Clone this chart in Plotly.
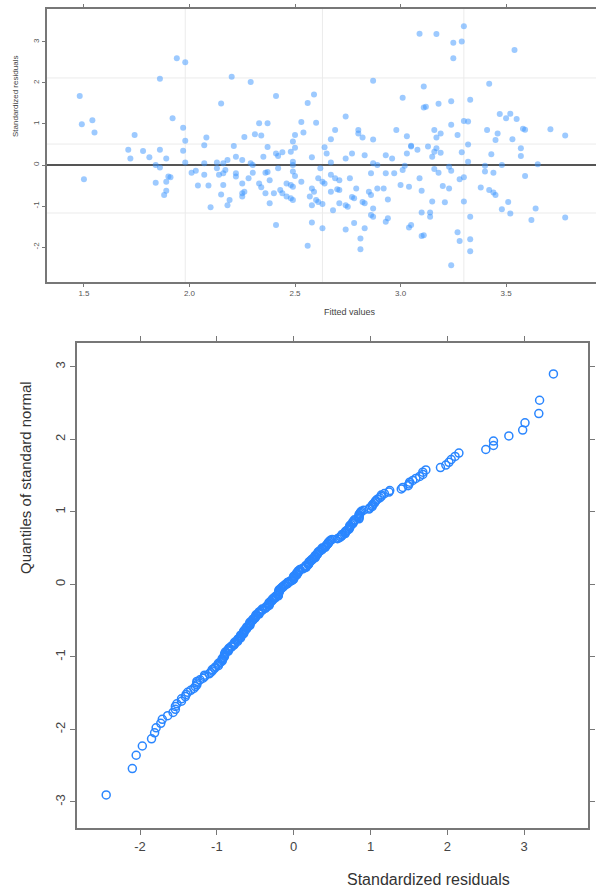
import plotly.graph_objects as go
from statistics import NormalDist

# ---- data (fitted values, standardized residuals) ----
fitted = [
    1.94, 1.98, 1.86, 2.20, 1.48, 2.15, 1.49, 1.54, 1.55, 1.92, 1.97, 1.74, 1.98, 2.08, 2.07, 2.21, 2.26, 1.71, 1.78, 1.86, 1.97,
    2.29, 2.87, 2.41, 2.59, 2.56, 3.01, 2.74, 2.33, 2.37, 2.53, 2.60, 2.31, 2.34, 2.37, 2.50, 2.54, 2.49, 2.50, 2.69, 2.67, 2.64,
    2.80, 2.80, 2.82, 2.87, 2.98, 3.03, 3.05, 2.44, 2.48, 2.41, 2.65, 2.77, 2.83, 2.93, 3.03,
    3.09, 3.17, 3.30, 3.25, 3.29, 3.25, 3.54, 3.11, 3.42, 3.11, 3.12, 3.18, 3.24, 3.33, 3.47, 3.52, 3.50, 3.55, 3.30, 3.32, 3.24,
    3.16, 3.19, 3.27, 3.41, 3.46, 3.58, 3.59, 3.71, 3.78, 3.45, 3.53, 3.17, 3.05, 3.08, 3.13, 3.17, 3.16, 3.19, 3.32, 3.29, 3.57, 3.43,
    1.50, 1.72, 1.81, 1.89, 1.84, 1.86, 1.98, 1.84, 1.90, 1.91, 1.89, 1.89, 1.88, 2.01, 2.03, 2.07, 2.07, 2.04, 2.09, 2.13, 2.13,
    2.14, 2.16, 2.18, 2.22, 2.25, 2.17, 2.16, 2.22, 2.22, 2.16, 2.15, 2.19, 2.18, 2.10, 2.25,
    2.35, 2.42, 2.58, 2.74, 2.96, 2.30, 2.29, 2.49, 2.49, 2.62, 2.67, 2.87, 2.89, 3.02, 2.36, 2.37, 2.30, 2.28, 2.42, 2.49, 2.50,
    2.38, 2.33, 2.34, 2.25, 2.26, 2.25, 2.36, 2.40, 2.38, 2.43, 2.44, 2.46, 2.48, 2.49, 2.46, 2.48, 2.49, 2.53, 2.58, 2.59, 2.61,
    2.63, 2.64, 2.67, 2.69, 2.71, 2.60, 2.61, 2.57, 2.58, 2.63, 2.67, 2.70, 2.71, 2.71, 2.68, 2.74, 2.75, 2.78, 2.77, 2.79, 2.76,
    2.82, 2.83, 2.86, 2.85, 2.87, 2.86, 2.93, 2.97, 2.89, 2.92, 2.94, 3.00, 3.04, 3.01, 2.87, 2.86, 2.93, 2.94, 2.78, 2.83, 2.74,
    2.63, 2.58, 2.41, 2.81, 2.81, 2.56, 3.04, 3.05,
    3.15, 3.57, 3.32, 3.23, 3.24, 3.16, 3.18, 3.40, 3.40, 3.48, 3.44, 3.65, 3.59, 3.09, 3.28, 3.30, 3.10, 3.20, 3.23, 3.38, 3.42,
    3.44, 3.45, 3.15, 3.21, 3.30, 3.51, 3.48, 3.52, 3.64, 3.10, 3.14, 3.14, 3.33, 3.62, 3.78, 3.10, 3.11, 3.27, 3.28, 3.33, 3.33, 3.24,
]
resid = [
    2.60, 2.50, 2.10, 2.15, 1.68, 1.50, 0.99, 1.09, 0.79, 1.14, 0.91, 0.73, 0.59, 0.67, 0.48, 0.46, 0.68, 0.37, 0.34, 0.37, 0.35,
    2.02, 2.05, 1.68, 1.72, 1.51, 1.64, 1.18, 1.02, 1.02, 1.05, 1.03, 0.75, 0.72, 0.44, 0.73, 0.79, 0.57, 0.42, 0.85, 0.63, 0.43,
    0.85, 0.77, 0.67, 0.62, 0.85, 0.70, 0.45, 0.31, 0.32, 0.28, 0.28, 0.28, 0.24, 0.24, 0.28,
    3.20, 3.19, 3.38, 2.98, 3.01, 2.60, 2.80, 1.91, 1.98, 1.40, 1.42, 1.49, 1.55, 1.59, 1.24, 1.25, 1.14, 1.12, 1.07, 1.06, 0.98,
    0.85, 0.77, 0.73, 0.85, 0.77, 0.88, 0.86, 0.87, 0.72, 0.61, 0.63, 0.67, 0.47, 0.37, 0.45, 0.41, 0.32, 0.30, 0.50, 0.31, 0.41, 0.26,
    -0.35, 0.16, 0.19, 0.16, 0.00, -0.06, 0.06, -0.43, -0.28, -0.30, -0.41, -0.63, -0.73, -0.19, -0.14, 0.04, -0.24, -0.50, -0.50, 0.06, -0.08,
    -0.24, 0.04, 0.12, 0.20, 0.12, -0.12, -0.20, -0.20, -0.28, -0.49, -0.72, -0.85, -0.98, -1.03, -0.69,
    0.20, 0.22, 0.19, 0.16, 0.16, 0.00, 0.04, 0.08, 0.00, -0.08, 0.06, 0.04, 0.00, -0.02, -0.19, -0.17, -0.19, -0.32, -0.08, -0.16, -0.27,
    -0.37, -0.45, -0.54, -0.45, -0.65, -0.77, -0.69, -0.69, -0.93, -0.61, -0.69, -0.77, -0.81, -0.85, -0.45, -0.49, -0.53, -0.41, -0.57, -0.65, -0.32,
    -0.41, -0.45, -0.24, -0.32, -0.37, -0.85, -0.90, -0.77, -0.98, -0.95, -0.65, -0.59, -0.61, -0.93, -1.10, -0.98, -1.02, -0.81, -0.78, -0.57, -0.32,
    -0.90, -0.93, -0.73, -0.65, -1.06, -0.20, -0.20, -0.20, -0.57, -0.57, -0.84, -0.49, -0.53, -0.12, -1.26, -1.22, -1.38, -1.30, -1.41, -1.54, -1.57,
    -1.54, -1.40, -1.46, -1.79, -2.05, -1.97, -1.52, -1.46,
    0.20, 0.22, 0.08, -0.04, -0.14, -0.10, -0.19, -0.02, -0.16, 0.00, -0.19, 0.02, -0.27, -0.32, -0.35, -0.30, -0.63, -0.51, -0.57, -0.55, -0.61,
    -0.67, -0.73, -0.89, -0.91, -0.89, -0.90, -1.08, -1.18, -1.06, -1.16, -1.16, -1.26, -1.26, -1.34, -1.28, -1.73, -1.71, -1.64, -1.85, -1.81, -2.10, -2.44,
]

top_xticks = [1.5, 2.0, 2.5, 3.0, 3.5]
top_xlabels = ["1.5", "2.0", "2.5", "3.0", "3.5"]
top_yticks = [-2, -1, 0, 1, 2, 3]
top_ylabels = ["-2", "-1", "0", "1", "2", "3"]
top_grid_x = [1.98, 2.63, 3.30]
top_grid_y = [2.12, 0.51, -1.17]

qq_xticks = [-2, -1, 0, 1, 2, 3]
qq_xlabels = ["-2", "-1", "0", "1", "2", "3"]
qq_yticks = [-3, -2, -1, 0, 1, 2, 3]
qq_ylabels = ["-3", "-2", "-1", "0", "1", "2", "3"]

# QQ plot: sorted residuals vs standard normal quantiles
sorted_resid = sorted(resid)
n = len(sorted_resid)
nd = NormalDist()
normal_q = [nd.inv_cdf((i + 0.5) / n) for i in range(n)]

FONT = "Liberation Sans, Arial, sans-serif"
W, H = 596, 889

fig = go.Figure()
fig.add_trace(go.Scatter(
    x=fitted, y=resid, mode="markers", xaxis="x", yaxis="y", showlegend=False,
    marker=dict(size=6, color="rgba(60,150,255,0.5)", line=dict(width=0)),
    hoverinfo="skip"))
fig.add_trace(go.Scatter(
    x=sorted_resid, y=normal_q, mode="markers", xaxis="x2", yaxis="y2", showlegend=False,
    marker=dict(symbol="circle-open", size=8, color="#2a86ff", line=dict(width=1.5, color="#2a86ff")),
    hoverinfo="skip"))

shapes = []
for g in top_grid_x:
    shapes.append(dict(type="line", xref="x", yref="y domain", x0=g, x1=g, y0=0, y1=1,
                       line=dict(color="#ebebeb", width=1), layer="below"))
for g in top_grid_y:
    shapes.append(dict(type="line", xref="x domain", yref="y", x0=0, x1=1, y0=g, y1=g,
                       line=dict(color="#ebebeb", width=1), layer="below"))

axis_common = dict(showgrid=False, zeroline=False, showline=True, ticks="outside")

fig.update_layout(
    width=W, height=H, margin=dict(l=0, r=0, t=0, b=0),
    paper_bgcolor="white", plot_bgcolor="white", font=dict(family=FONT, color="#444"),
    showlegend=False, shapes=shapes,
    xaxis=dict(axis_common, domain=[47 / W, 1.0], range=[1.325, 3.926], anchor="y",
               tickvals=top_xticks, ticktext=top_xlabels, ticklen=3, tickwidth=1,
               linecolor="#777", linewidth=1.5, mirror="ticks", tickcolor="#777",
               tickfont=dict(size=8, color="#555")),
    yaxis=dict(axis_common, domain=[1 - 282 / H, 1 - 9 / H], range=[-2.85, 3.80], anchor="x",
               tickvals=top_yticks, ticktext=top_ylabels, ticklen=3, tickwidth=1,
               linecolor="#777", linewidth=1.5, tickcolor="#777", tickangle=-90,
               zeroline=True, zerolinecolor="#555", zerolinewidth=1.5,
               tickfont=dict(size=8, color="#555")),
    xaxis2=dict(axis_common, domain=[77 / W, 588 / W], range=[-2.82, 3.83], anchor="y2",
                tickvals=qq_xticks, ticktext=qq_xlabels, ticklen=5, tickwidth=1.2,
                linecolor="#777", linewidth=2, mirror="ticks", tickcolor="#777",
                tickfont=dict(size=13, color="#444")),
    yaxis2=dict(axis_common, domain=[1 - 828 / H, 1 - 343 / H], range=[-3.36, 3.33], anchor="x2",
                tickvals=qq_yticks, ticktext=qq_ylabels, ticklen=5, tickwidth=1.2,
                linecolor="#777", linewidth=2, mirror="ticks", tickcolor="#777", tickangle=-90,
                tickfont=dict(size=13, color="#444")),
    annotations=[
        dict(text="Standardized residuals", xref="paper", yref="paper", x=15 / W, y=1 - 97 / H,
             xanchor="center", yanchor="middle",
             textangle=-90, showarrow=False, font=dict(size=8, color="#444")),
        dict(text="Fitted values", xref="paper", yref="paper", x=350 / W, y=1 - 312 / H,
             xanchor="center", yanchor="middle",
             showarrow=False, font=dict(size=9, color="#444")),
        dict(text="Quantiles of standard normal", xref="paper", yref="paper", x=25 / W, y=1 - 478 / H,
             xanchor="center", yanchor="middle",
             textangle=-90, showarrow=False, font=dict(size=15, color="#333")),
        dict(text="Standardized residuals", xref="paper", yref="paper", x=428 / W, y=0,
             xanchor="center", yanchor="bottom", borderpad=0,
             showarrow=False, font=dict(size=16, color="#333")),
    ],
)

fig.write_html("out.html", config={"displayModeBar": False},
               post_script="document.body.style.margin='0';document.body.style.overflow='hidden';")
